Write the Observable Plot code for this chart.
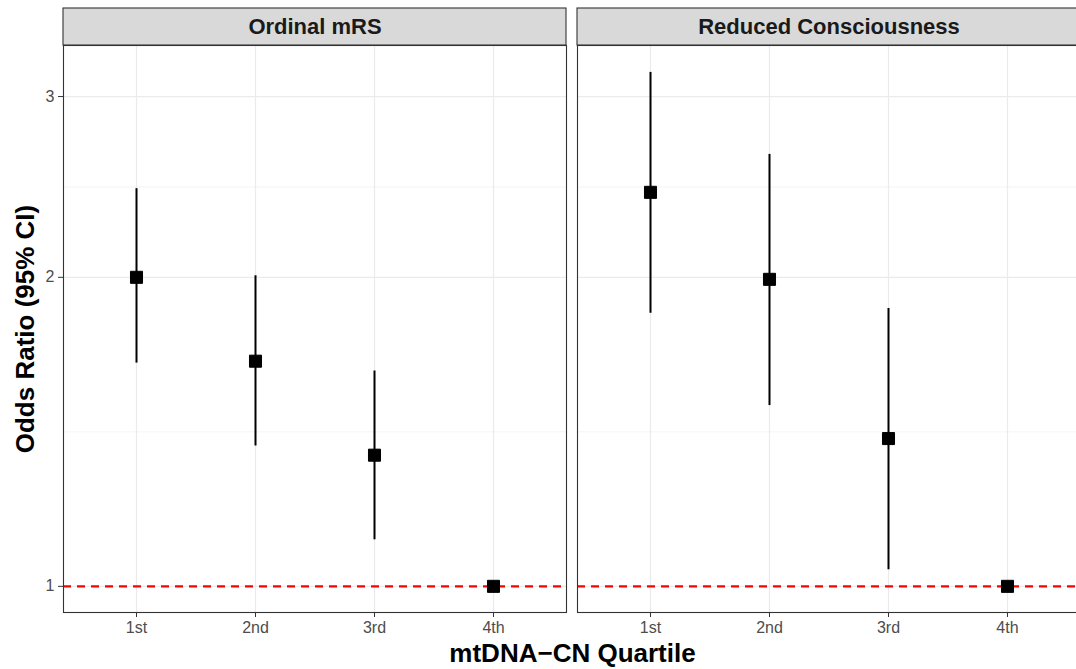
<!DOCTYPE html>
<html>
<head>
<meta charset="utf-8">
<script src="https://cdn.jsdelivr.net/npm/d3@7"></script>
<script src="https://cdn.jsdelivr.net/npm/@observablehq/plot@0.6"></script>
<style>
  html, body { margin: 0; padding: 0; background: #ffffff; overflow: hidden; }
  #chart { width: 1076px; height: 669px; overflow: hidden; }
  #chart svg { max-width: none !important; }
</style>
</head>
<body>
<div id="chart"></div>
<script>
// ---- data ----
const panels = ["Ordinal mRS", "Reduced Consciousness"];
const quartiles = ["1st", "2nd", "3rd", "4th"];

const mrsOR = [2.00, 1.657, 1.342, 1];
const mrsLo = [1.65, 1.37, 1.11, null];
const mrsHi = [2.44, 2.007, 1.621, null];

const rcOR = [2.42, 1.991, 1.393, 1];
const rcLo = [1.845, 1.50, 1.038, null];
const rcHi = [3.167, 2.635, 1.865, null];

const yTicks = [1, 2, 3];
const yMinor = [1.414, 2.449];
const refLine = [1];
const yDomain = [0.943, 3.364];

const xTitle = "mtDNA\u2212CN Quartile";
const yTitle = "Odds Ratio (95% CI)";

// ---- table built from the arrays ----
const rows = [];
quartiles.forEach((q, i) => {
  rows.push({panel: panels[0], q, or: mrsOR[i], lo: mrsLo[i], hi: mrsHi[i]});
  rows.push({panel: panels[1], q, or: rcOR[i], lo: rcLo[i], hi: rcHi[i]});
});
const ciRows = rows.filter(d => d.lo != null && d.hi != null);
const stripRows = panels.map(p => ({panel: p}));

const font = "'Liberation Sans', Arial, sans-serif";

const chart = Plot.plot({
  width: 1080,
  height: 669,
  marginTop: 45,
  marginBottom: 57,
  marginLeft: 63,
  marginRight: 0,
  style: {fontFamily: font, fontSize: "16px", background: "#ffffff", color: "#4d4d4d", maxWidth: "none"},
  fx: {domain: panels, paddingInner: 0.0214, paddingOuter: 0, round: false, axis: null, label: null},
  x: {type: "point", domain: quartiles, padding: 0.6, label: null},
  y: {type: "log", domain: yDomain, label: null},
  marks: [
    // panel background grids
    Plot.ruleY(yMinor, {stroke: "#ebebeb", strokeWidth: 0.6}),
    Plot.ruleY(yTicks, {stroke: "#ebebeb", strokeWidth: 1.2}),
    Plot.ruleX(quartiles, {stroke: "#ebebeb", strokeWidth: 1.2}),
    // reference line at OR = 1
    Plot.ruleY(refLine, {stroke: "#ff0000", strokeWidth: 2.2, strokeDasharray: "8,6"}),
    // confidence intervals
    Plot.ruleX(ciRows, {fx: "panel", x: "q", y1: "lo", y2: "hi", stroke: "#000000", strokeWidth: 2}),
    // point estimates
    Plot.dot(rows, {fx: "panel", x: "q", y: "or", symbol: "square", r: 6.8, fill: "#000000",
                    stroke: "#000000", strokeWidth: 1, strokeLinejoin: "round"}),
    // panel border
    Plot.frame({stroke: "#333333", strokeWidth: 1.1}),
    // strip
    Plot.rect(stripRows, {fx: "panel", y1: () => yDomain[1], y2: () => yDomain[1], insetTop: -37,
                          fill: "#d9d9d9", stroke: "#333333", strokeWidth: 1.1}),
    Plot.text(stripRows, {fx: "panel", text: "panel", frameAnchor: "top", dy: -18.5,
                          fontSize: 22, fontWeight: "bold", fill: "#1a1a1a", lineAnchor: "middle"}),
    // axes
    Plot.axisX({tickSize: 5, tickPadding: 4, fontSize: 16, stroke: "#333333", fill: "#4d4d4d", label: null}),
    Plot.axisY({ticks: yTicks, tickFormat: d => String(d), tickSize: 5, tickPadding: 4, fontSize: 16,
                stroke: "#333333", fill: "#4d4d4d", label: null}),
    // axis titles
    Plot.text([{panel: panels[0], t: yTitle}], {fx: "panel", text: "t", frameAnchor: "left", rotate: -90,
              dx: -38, fontSize: 26, fontWeight: "bold", fill: "#000000", lineAnchor: "middle", textAnchor: "middle"}),
    Plot.text([{panel: panels[0], t: xTitle}], {fx: "panel", text: "t", frameAnchor: "bottom-right",
              dx: 6, dy: 41, fontSize: 26, fontWeight: "bold", fill: "#000000", lineAnchor: "middle", textAnchor: "middle"})
  ]
});
document.getElementById("chart").appendChild(chart);
</script>
</body>
</html>
